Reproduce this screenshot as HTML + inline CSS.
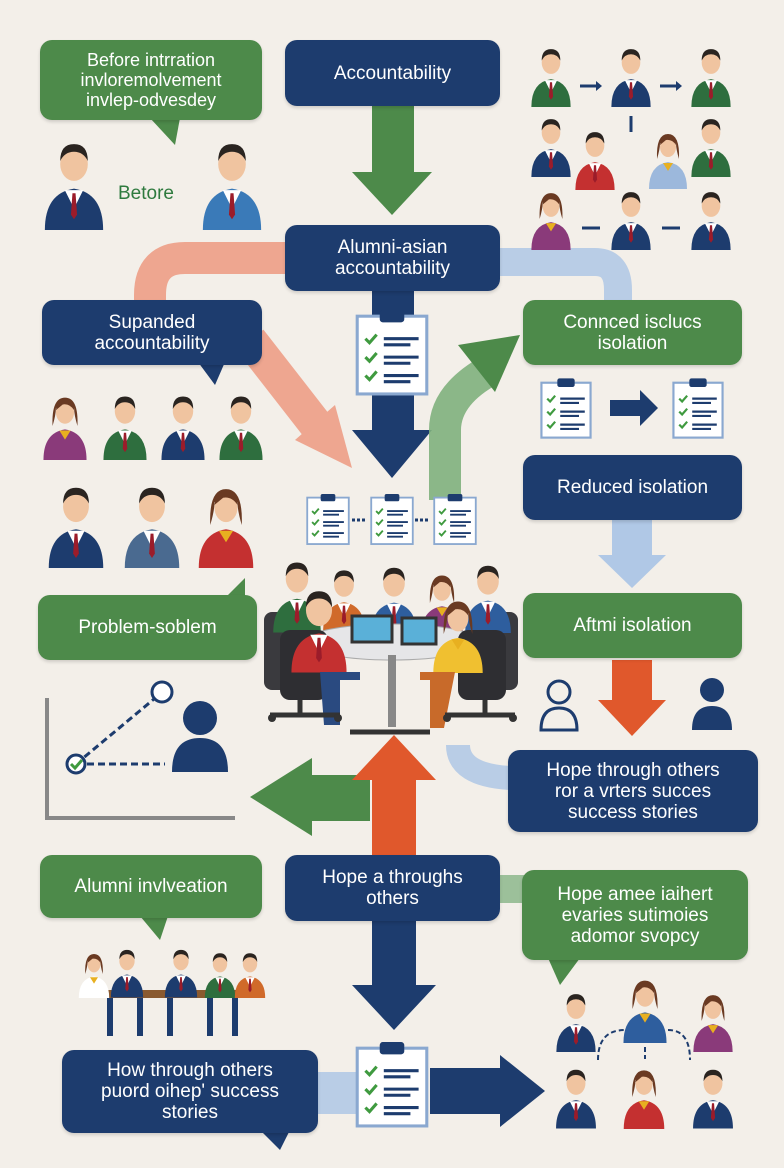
<!DOCTYPE html>
<html><head><meta charset="utf-8"><style>
body{margin:0;background:#f3efe9;}
#c{position:relative;width:784px;height:1168px;overflow:hidden;background:#f3efe9;font-family:"Liberation Sans",sans-serif;}
.b{position:absolute;color:#fff;display:flex;align-items:center;justify-content:center;text-align:center;border-radius:12px;font-size:19px;line-height:21px;box-shadow:0 2px 3px rgba(0,0,0,.15);}
.n{background:#1d3c6e;}
.g{background:#4d8a4a;}
svg{position:absolute;left:0;top:0;}
</style></head><body><div id="c">
<svg width="784" height="1168" viewBox="0 0 784 1168">
<defs>
<symbol id="p" viewBox="0 0 40 60">
<path d="M1 60 Q1 36 20 33 Q39 36 39 60Z" fill="currentColor"/>
<path d="M14 34 L20 46 L26 34Z" fill="#fff"/>
<path d="M19 36 L21 36 L22 50 L20 53 L18 50Z" fill="#9b1c2a"/>
<ellipse cx="20" cy="17" rx="9" ry="11" fill="#f0c4a0"/>
<path d="M11 15 Q11 4 20 4 Q29 4 29 15 Q26 9 20 9 Q14 9 11 15Z" fill="#2a2420"/>
</symbol>
<symbol id="w" viewBox="0 0 40 60">
<path d="M1 60 Q1 36 20 33 Q39 36 39 60Z" fill="currentColor"/>
<path d="M15 34 L20 42 L25 34Z" fill="#e8b020"/>
<path d="M9 30 Q8 5 20 5 Q32 5 31 30 Q28 20 28 14 L12 14 Q12 20 9 30Z" fill="#6a3a22"/>
<ellipse cx="20" cy="18" rx="8" ry="10" fill="#f0c4a0"/>
<path d="M12 16 Q13 6 20 6 Q28 6 28 16 Q24 10 18 11Z" fill="#6a3a22"/>
</symbol>
<symbol id="cb" viewBox="0 0 72 86">
<rect x="2" y="8" width="68" height="76" fill="#fff" stroke="#8aa8d0" stroke-width="3"/>
<rect x="24" y="2" width="24" height="12" rx="3" fill="#1d3c6e"/>
<g stroke="#3f9a3f" stroke-width="3" fill="none"><path d="M10 30l4 4 7-8"/><path d="M10 48l4 4 7-8"/><path d="M10 66l4 4 7-8"/></g>
<g stroke="#1d3c6e" stroke-width="3"><path d="M28 30h34M28 36h26M28 48h34M28 54h26M28 66h34M28 72h26"/></g>
</symbol>
</defs>
<path d="M290 258 L185 258 Q150 258 150 295 L150 300" stroke="#eea690" stroke-width="32" fill="none"/>
<path d="M250 340 L320 430" stroke="#eea690" stroke-width="34" fill="none"/>
<path d="M295 440 L352 468 L335 405Z" fill="#eea690"/>
<path d="M500 262 L595 262 Q618 262 618 290 L618 300" stroke="#b9cde6" stroke-width="28" fill="none"/>
<rect x="372" y="105" width="42" height="70" fill="#4d8a4a"/>
<path d="M352 172 L432 172 L392 215Z" fill="#4d8a4a"/>
<rect x="372" y="290" width="42" height="145" fill="#1d3c6e"/>
<path d="M352 430 L432 430 L392 478Z" fill="#1d3c6e"/>
<path d="M445 500 L445 430 Q445 395 490 370" stroke="#7fb07d" stroke-width="32" fill="none" opacity=".9"/>
<path d="M458 345 L520 335 L495 392Z" fill="#4d8a4a"/>
<rect x="612" y="520" width="40" height="40" fill="#b0c8e6"/>
<path d="M598 555 L666 555 L632 588Z" fill="#b0c8e6"/>
<rect x="612" y="660" width="40" height="45" fill="#e0582c"/>
<path d="M598 700 L666 700 L632 736Z" fill="#e0582c"/>
<path d="M458 745 Q458 775 510 778" stroke="#b9cde6" stroke-width="24" fill="none"/>
<rect x="310" y="775" width="60" height="46" fill="#4d8a4a"/>
<path d="M312 758 L312 836 L250 797Z" fill="#4d8a4a"/>
<rect x="372" y="775" width="44" height="82" fill="#e0582c"/>
<path d="M352 780 L436 780 L394 735Z" fill="#e0582c"/>
<rect x="500" y="875" width="30" height="28" fill="#9cc09a"/>
<rect x="372" y="920" width="44" height="70" fill="#1d3c6e"/>
<path d="M352 985 L436 985 L394 1030Z" fill="#1d3c6e"/>
<rect x="310" y="1072" width="50" height="42" fill="#b9cde6"/>
<rect x="430" y="1068" width="75" height="46" fill="#1d3c6e"/>
<path d="M500 1055 L500 1127 L545 1091Z" fill="#1d3c6e"/>
<use href="#cb" x="355" y="308" width="74" height="88"/>
<use href="#cb" x="540" y="375" width="52" height="66"/>
<path d="M610 400h30v-10l18 18-18 18v-10h-30z" fill="#1d3c6e"/>
<use href="#cb" x="672" y="375" width="52" height="66"/>
<use href="#cb" x="306" y="490" width="44" height="58"/>
<use href="#cb" x="370" y="490" width="44" height="58"/>
<use href="#cb" x="433" y="490" width="44" height="58"/>
<path d="M352 520h14M415 520h14" stroke="#1d3c6e" stroke-width="3" stroke-dasharray="3 2"/>
<use href="#cb" x="355" y="1040" width="74" height="88"/>
<use href="#p" x="530" y="45" width="42" height="62" style="color:#2e6e3e"/>
<path d="M580 86h18" stroke="#1d3c6e" stroke-width="3"/><path d="M596 81l6 5-6 5z" fill="#1d3c6e"/>
<use href="#p" x="610" y="45" width="42" height="62" style="color:#1d3c6e"/>
<path d="M660 86h18" stroke="#1d3c6e" stroke-width="3"/><path d="M676 81l6 5-6 5z" fill="#1d3c6e"/>
<use href="#p" x="690" y="45" width="42" height="62" style="color:#2e6e3e"/>
<use href="#p" x="530" y="115" width="42" height="62" style="color:#1d3c6e"/>
<use href="#p" x="574" y="128" width="42" height="62" style="color:#c43030"/>
<path d="M631 116v16" stroke="#1d3c6e" stroke-width="3"/>
<use href="#w" x="648" y="128" width="40" height="62" style="color:#9cb8dc"/>
<use href="#p" x="690" y="115" width="42" height="62" style="color:#2e6e3e"/>
<use href="#w" x="530" y="188" width="42" height="62" style="color:#8a3a7a"/>
<path d="M582 228h18" stroke="#1d3c6e" stroke-width="3"/>
<use href="#p" x="610" y="188" width="42" height="62" style="color:#1d3c6e"/>
<path d="M662 228h18" stroke="#1d3c6e" stroke-width="3"/>
<use href="#p" x="690" y="188" width="42" height="62" style="color:#1d3c6e"/>
<use href="#p" x="42" y="138" width="64" height="92" style="color:#1d3c6e"/>
<use href="#p" x="200" y="138" width="64" height="92" style="color:#3a7ab8"/>
<use href="#w" x="42" y="392" width="46" height="68" style="color:#8a3a7a"/>
<use href="#p" x="102" y="392" width="46" height="68" style="color:#2e6e3e"/>
<use href="#p" x="160" y="392" width="46" height="68" style="color:#1d3c6e"/>
<use href="#p" x="218" y="392" width="46" height="68" style="color:#2e6e3e"/>
<use href="#p" x="46" y="482" width="60" height="86" style="color:#1d3c6e"/>
<use href="#p" x="122" y="482" width="60" height="86" style="color:#4a6a90"/>
<use href="#w" x="196" y="482" width="60" height="86" style="color:#c43030"/>
<!-- meeting -->
<rect x="264" y="612" width="26" height="78" rx="8" fill="#3a3a3e"/>
<rect x="492" y="612" width="26" height="78" rx="8" fill="#3a3a3e"/>
<use href="#p" x="272" y="555" width="50" height="80" style="color:#2e6e3e"/>
<use href="#p" x="322" y="562" width="44" height="74" style="color:#d06a2a"/>
<use href="#p" x="370" y="560" width="48" height="78" style="color:#2e5e9e"/>
<use href="#w" x="420" y="566" width="44" height="74" style="color:#8a3a7a"/>
<use href="#p" x="464" y="556" width="48" height="82" style="color:#2e5e9e"/>
<ellipse cx="392" cy="642" rx="88" ry="18" fill="#e6e6e8" stroke="#aaa"/>
<rect x="388" y="655" width="8" height="72" fill="#888"/>
<rect x="352" y="616" width="40" height="26" fill="#5ab0d8" stroke="#333" stroke-width="3"/>
<rect x="402" y="618" width="34" height="26" fill="#5ab0d8" stroke="#333" stroke-width="3"/>
<rect x="280" y="630" width="48" height="70" rx="10" fill="#2e2e32"/>
<rect x="458" y="630" width="48" height="70" rx="10" fill="#2e2e32"/>
<use href="#p" x="290" y="585" width="58" height="88" style="color:#c43030"/>
<use href="#w" x="432" y="590" width="52" height="88" style="color:#f0c030"/>
<path d="M320 672h40v8h-20v45h-16z" fill="#2a4a80"/>
<path d="M455 672h-35v8h10v48h14z" fill="#c86a2a"/>
<path d="M270 715h70M300 700v15M445 715h70M485 700v15M350 732h80" stroke="#333" stroke-width="5"/>
<circle cx="272" cy="718" r="4" fill="#333"/><circle cx="338" cy="718" r="4" fill="#333"/><circle cx="447" cy="718" r="4" fill="#333"/><circle cx="513" cy="718" r="4" fill="#333"/>
<circle cx="559" cy="692" r="11" fill="none" stroke="#1d3c6e" stroke-width="3"/>
<path d="M541 730 Q541 708 559 708 Q577 708 577 730Z" fill="none" stroke="#1d3c6e" stroke-width="3"/>
<circle cx="712" cy="690" r="12" fill="#1d3c6e"/>
<path d="M692 730 Q692 706 712 706 Q732 706 732 730Z" fill="#1d3c6e"/>
<path d="M47 698V818H235" stroke="#888" stroke-width="4" fill="none"/>
<path d="M76 764L160 694M76 764H165" stroke="#1d3c6e" stroke-width="3" stroke-dasharray="7 4" fill="none"/>
<circle cx="162" cy="692" r="10" fill="#fff" stroke="#1d3c6e" stroke-width="3"/>
<circle cx="76" cy="764" r="9" fill="#fff" stroke="#1d3c6e" stroke-width="3"/>
<path d="M71 764l4 4 7-8" stroke="#3f9a3f" stroke-width="3" fill="none"/>
<circle cx="200" cy="718" r="17" fill="#1d3c6e"/>
<path d="M172 772 Q172 738 200 738 Q228 738 228 772Z" fill="#1d3c6e"/>
<rect x="100" y="990" width="140" height="8" fill="#8a5a30"/>
<use href="#w" x="78" y="948" width="32" height="52" style="color:#fff"/>
<use href="#p" x="110" y="944" width="34" height="56" style="color:#1d3c6e"/>
<use href="#p" x="164" y="944" width="34" height="56" style="color:#1d3c6e"/>
<use href="#p" x="204" y="948" width="32" height="52" style="color:#2e6e3e"/>
<use href="#p" x="234" y="948" width="32" height="52" style="color:#d06a2a"/>
<path d="M110 998v38M140 998v38M170 998v38M210 998v38M235 998v38" stroke="#1d3c6e" stroke-width="6"/>
<use href="#p" x="555" y="990" width="42" height="62" style="color:#1d3c6e"/>
<use href="#w" x="622" y="975" width="46" height="68" style="color:#2e5e9e"/>
<use href="#w" x="692" y="990" width="42" height="62" style="color:#8a3a7a"/>
<path d="M598 1060 Q598 1030 625 1030 M668 1030 Q690 1030 690 1060 M645 1047v12" stroke="#1d3c6e" stroke-width="2" stroke-dasharray="5 3" fill="none"/>
<use href="#p" x="555" y="1065" width="42" height="64" style="color:#1d3c6e"/>
<use href="#w" x="622" y="1065" width="44" height="64" style="color:#c43030"/>
<use href="#p" x="692" y="1065" width="42" height="64" style="color:#1d3c6e"/>
<path d="M150 118 L175 145 L180 118Z" fill="#4d8a4a"/>
<path d="M198 362 L215 385 L225 362Z" fill="#1d3c6e"/>
<path d="M225 598 L245 578 L245 600Z" fill="#4d8a4a"/>
<path d="M140 916 L160 940 L168 916Z" fill="#4d8a4a"/>
<path d="M548 958 L560 985 L580 958Z" fill="#4d8a4a"/>
<path d="M260 1130 L280 1150 L290 1130Z" fill="#1d3c6e"/>
</svg>
<div class="b g" style="left:40px;top:40px;width:222px;height:80px;font-size:18px;line-height:20px">Before intrration<br>invloremolvement<br>invlep-odvesdey</div>
<div class="b n" style="left:285px;top:40px;width:215px;height:66px">Accountability</div>
<div style="position:absolute;left:118px;top:183px;color:#2e7a3e;font-size:19px">Betore</div>
<div class="b n" style="left:285px;top:225px;width:215px;height:66px">Alumni-asian<br>accountability</div>
<div class="b n" style="left:42px;top:300px;width:220px;height:65px">Supanded<br>accountability</div>
<div class="b g" style="left:523px;top:300px;width:219px;height:65px">Connced isclucs<br>isolation</div>
<div class="b n" style="left:523px;top:455px;width:219px;height:65px">Reduced isolation</div>
<div class="b g" style="left:38px;top:595px;width:219px;height:65px">Problem-soblem</div>
<div class="b g" style="left:523px;top:593px;width:219px;height:65px">Aftmi isolation</div>
<div class="b n" style="left:508px;top:750px;width:250px;height:82px">Hope through others<br>ror a vrters succes<br>success stories</div>
<div class="b g" style="left:40px;top:855px;width:222px;height:63px">Alumni invlveation</div>
<div class="b n" style="left:285px;top:855px;width:215px;height:66px">Hope a throughs<br>others</div>
<div class="b g" style="left:522px;top:870px;width:226px;height:90px">Hope amee iaihert<br>evaries sutimoies<br>adomor svopcy</div>
<div class="b n" style="left:62px;top:1050px;width:256px;height:83px">How through others<br>puord oihep' success<br>stories</div>
</div></body></html>
